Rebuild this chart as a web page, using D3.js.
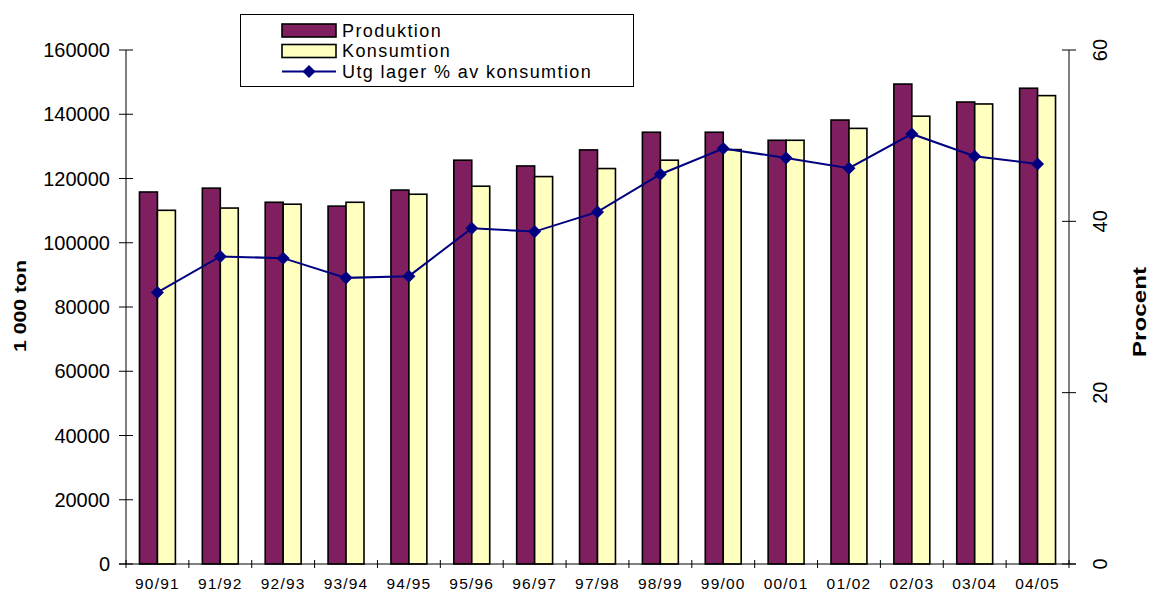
<!DOCTYPE html>
<html>
<head>
<meta charset="utf-8">
<script src="https://cdn.jsdelivr.net/npm/d3@7"></script>
<style>
  html, body { margin: 0; padding: 0; background: #fff; }
  svg text { font-family: "Liberation Sans", Arial, sans-serif; fill: #000; }
</style>
</head>
<body>
<svg id="chart" width="1152" height="592"></svg>
<script>
// Marketing years
const seasons = ["90/91","91/92","92/93","93/94","94/95","95/96","96/97","97/98",
                 "98/99","99/00","00/01","01/02","02/03","03/04","04/05"];
// Production and consumption, 1 000 ton
const produktion = [115800,117000,112600,111400,116400,125700,123900,128900,
                    134400,134400,131900,138200,149400,143800,148100];
const konsumtion = [110100,110800,112000,112600,115100,117600,120600,123100,
                    125700,129000,131900,135600,139400,143200,145800];
// Ending stocks as percent of consumption
const lagerPct = [31.7,35.9,35.7,33.4,33.6,39.2,38.8,41.1,
                  45.5,48.5,47.4,46.2,50.2,47.6,46.7];

const leftTicks = [0,20000,40000,60000,80000,100000,120000,140000,160000];
const rightTicks = [0,20,40,60];

const svg = d3.select("#chart");
const m = { left: 126, right: 1069, top: 50, bottom: 564 };

const x = d3.scaleBand().domain(seasons).range([m.left, m.right]).paddingInner(0).paddingOuter(0);
const yL = d3.scaleLinear().domain([0, 160000]).range([m.bottom, m.top]);
const yR = d3.scaleLinear().domain([0, 60]).range([m.bottom, m.top]);

// two bars per category, gap between groups 150% of a bar width
const barW = x.bandwidth() / 3.5;
const off = (x.bandwidth() - 2 * barW) / 2;

const purple = "#7F1F5F", yellow = "#FFFFC0", navy = "#000080";

// Bars
const g = svg.append("g");
g.selectAll("rect.prod").data(seasons).join("rect")
  .attr("x", d => x(d) + off)
  .attr("y", (d, i) => yL(produktion[i]))
  .attr("width", barW)
  .attr("height", (d, i) => yL(0) - yL(produktion[i]))
  .attr("fill", purple).attr("stroke", "#000").attr("stroke-width", 1.6);
g.selectAll("rect.kons").data(seasons).join("rect")
  .attr("x", d => x(d) + off + barW)
  .attr("y", (d, i) => yL(konsumtion[i]))
  .attr("width", barW)
  .attr("height", (d, i) => yL(0) - yL(konsumtion[i]))
  .attr("fill", yellow).attr("stroke", "#000").attr("stroke-width", 1.6);

// Left axis
const axL = svg.append("g");
axL.append("line").attr("x1", m.left).attr("x2", m.left).attr("y1", m.top).attr("y2", m.bottom)
  .attr("stroke", "#000").attr("stroke-width", 1);
axL.selectAll("line.t").data(leftTicks).join("line")
  .attr("x1", m.left - 7).attr("x2", m.left + 7)
  .attr("y1", d => yL(d)).attr("y2", d => yL(d))
  .attr("stroke", "#000").attr("stroke-width", 1);
axL.selectAll("text").data(leftTicks).join("text")
  .attr("x", 110).attr("y", d => yL(d)).attr("dy", "0.36em")
  .attr("text-anchor", "end").attr("font-size", 20)
  .text(d => d);

// Right axis
const axR = svg.append("g");
axR.append("line").attr("x1", m.right).attr("x2", m.right).attr("y1", m.top).attr("y2", m.bottom)
  .attr("stroke", "#000").attr("stroke-width", 1);
axR.selectAll("line.t").data(rightTicks).join("line")
  .attr("x1", m.right - 7).attr("x2", m.right + 7)
  .attr("y1", d => yR(d)).attr("y2", d => yR(d))
  .attr("stroke", "#000").attr("stroke-width", 1);
axR.selectAll("text").data(rightTicks).join("text")
  .attr("transform", d => `translate(1100,${yR(d)}) rotate(-90)`)
  .attr("text-anchor", "middle").attr("dy", "0.36em").attr("font-size", 20)
  .text(d => d);

// Category axis
const axB = svg.append("g");
axB.append("line").attr("x1", m.left - 7).attr("x2", m.right + 7).attr("y1", m.bottom).attr("y2", m.bottom)
  .attr("stroke", "#000").attr("stroke-width", 1);
const bounds = seasons.map(d => x(d)).concat([m.right]);
axB.selectAll("line.t").data(bounds).join("line")
  .attr("x1", d => d).attr("x2", d => d)
  .attr("y1", m.bottom - 4).attr("y2", m.bottom + 4)
  .attr("stroke", "#000").attr("stroke-width", 1);
axB.selectAll("text").data(seasons).join("text")
  .attr("x", d => x(d) + x.bandwidth() / 2).attr("y", 589)
  .attr("text-anchor", "middle").attr("font-size", 15.5).attr("letter-spacing", 1.2)
  .text(d => d);

// Axis titles
svg.append("text").attr("transform", "translate(26,306) rotate(-90)")
  .attr("text-anchor", "middle").attr("font-size", 17).attr("font-weight", "bold")
  .attr("textLength", 92).attr("lengthAdjust", "spacingAndGlyphs")
  .text("1 000 ton");
svg.append("text").attr("transform", "translate(1146,312) rotate(-90)")
  .attr("text-anchor", "middle").attr("font-size", 18).attr("font-weight", "bold")
  .attr("textLength", 90).attr("lengthAdjust", "spacingAndGlyphs")
  .text("Procent");

// Stock line with diamond markers
const cx = d => x(d) + x.bandwidth() / 2;
const line = d3.line().x(d => cx(d.s)).y(d => yR(d.v));
const pts = seasons.map((s, i) => ({ s, v: lagerPct[i] }));
svg.append("path").datum(pts).attr("d", line)
  .attr("fill", "none").attr("stroke", navy).attr("stroke-width", 2);
const marker = d3.symbol().type(d3.symbolSquare).size(85);
svg.selectAll("path.mk").data(pts).join("path")
  .attr("transform", d => `translate(${cx(d.s)},${yR(d.v)}) rotate(45)`)
  .attr("d", marker)
  .attr("fill", navy);

// Legend
const lg = svg.append("g");
lg.append("rect").attr("x", 240.5).attr("y", 14.5).attr("width", 393).attr("height", 72)
  .attr("fill", "#fff").attr("stroke", "#000").attr("stroke-width", 1);
const legendItems = [
  { label: "Produktion", type: "bar", color: purple },
  { label: "Konsumtion", type: "bar", color: yellow },
  { label: "Utg lager % av konsumtion", type: "line", color: navy }
];
legendItems.forEach((it, i) => {
  const cy = 30.5 + i * 20.5;
  if (it.type === "bar") {
    lg.append("rect").attr("x", 282).attr("y", cy - 6.5).attr("width", 54).attr("height", 13)
      .attr("fill", it.color).attr("stroke", "#000").attr("stroke-width", 1.6);
  } else {
    lg.append("line").attr("x1", 282).attr("x2", 336).attr("y1", cy).attr("y2", cy)
      .attr("stroke", it.color).attr("stroke-width", 2);
    lg.append("path").attr("transform", `translate(309,${cy}) rotate(45)`)
      .attr("d", marker).attr("fill", it.color);
  }
  lg.append("text").attr("x", 342).attr("y", cy).attr("dy", "0.36em")
    .attr("font-size", 18).attr("letter-spacing", 1.4).text(it.label);
});
</script>
</body>
</html>
